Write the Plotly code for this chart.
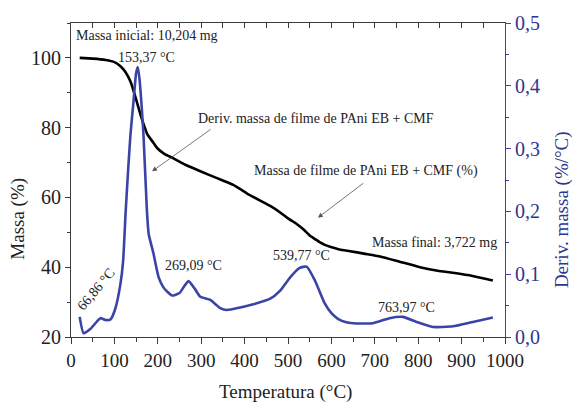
import plotly.graph_objects as go

# ---- data ----
T_mass = [20, 50, 80, 100, 114, 125, 137, 148, 160, 170, 176, 188, 199, 215, 236, 265, 298, 335,
          374, 405, 436, 460, 482, 500, 520, 536, 551, 563, 574, 585, 597, 619, 643, 675, 712,
          757, 804, 845, 880, 925, 972]
mass = [100, 99.8, 99.4, 98.8, 97.6, 96.0, 93.2, 89.0, 83.8, 80.0, 78.1, 76.0, 74.1, 72.5, 71.2,
        69.3, 67.5, 65.6, 63.6, 61.2, 59.1, 57.5, 55.7, 54.0, 52.4, 50.8, 49.0, 48.0, 47.1, 46.4,
        45.9, 45.1, 44.6, 43.9, 43.1, 41.6, 40.0, 39.0, 38.4, 37.5, 36.2]

T_deriv = [20, 29, 45, 60, 68, 80, 91, 102, 114, 120, 126, 132, 137, 144, 150, 154, 158, 162, 167,
           175, 179, 190, 202, 213, 222, 233, 250, 262, 271, 285, 298, 321, 344, 359, 390, 420,
           459, 482, 505, 527, 543, 562, 585, 600, 615, 632, 650, 696, 734, 765, 796, 834, 880,
           926, 972]
deriv = [0.032, 0.006, 0.013, 0.025, 0.030, 0.027, 0.028, 0.045, 0.085, 0.12, 0.20, 0.27, 0.322,
         0.375, 0.42, 0.43, 0.41, 0.375, 0.322, 0.20, 0.164, 0.133, 0.095, 0.079, 0.072, 0.066,
         0.070, 0.082, 0.089, 0.077, 0.064, 0.059, 0.046, 0.043, 0.047, 0.052, 0.061, 0.074,
         0.095, 0.110, 0.112, 0.090, 0.053, 0.038, 0.029, 0.024, 0.022, 0.022, 0.030, 0.032,
         0.024, 0.016, 0.017, 0.024, 0.031]

x_ticks = [0, 100, 200, 300, 400, 500, 600, 700, 800, 900, 1000]
y_left_ticks = [20, 40, 60, 80, 100]
y_right_ticks = [0.0, 0.1, 0.2, 0.3, 0.4, 0.5]

peak_labels = [  # (x, y_left, text, angle)
    (175, 100.0, "153,37 °C", 0),
    (283, 40.5, "269,09 °C", 0),
    (530, 43.3, "539,77 °C", 0),
    (773, 28.5, "763,97 °C", 0),
    (57, 33.7, "66,86 °C", -50),
]

FONT = "Liberation Serif"
BLUE = "#3a44a6"
BLUE_TXT = "#2f3590"
AX = "#3c3c3c"

fig = go.Figure()
fig.add_trace(go.Scatter(x=T_mass, y=mass, mode="lines", line=dict(color="black", width=2.6, shape="spline", smoothing=0.5),
                         showlegend=False, xaxis="x", yaxis="y"))
fig.add_trace(go.Scatter(x=T_deriv, y=deriv, mode="lines", line=dict(color=BLUE, width=2.6, shape="spline", smoothing=0.5),
                         showlegend=False, xaxis="x", yaxis="y2"))

def txt(size=14, color="#222"):
    return dict(family=FONT, size=size, color=color)

annotations = []
annotations.append(dict(x=175, y=106.5, xref="x", yref="y", text="Massa inicial: 10,204 mg", showarrow=False,
                        xanchor="center", yanchor="middle", font=txt()))
for x, y, t, a in peak_labels:
    annotations.append(dict(x=x, y=y, xref="x", yref="y", text=t, showarrow=False, textangle=a,
                            xanchor="center", yanchor="middle", font=txt()))
annotations.append(dict(x=565, y=82.7, xref="x", yref="y", text="Deriv. massa de filme de PAni EB + CMF",
                        showarrow=False, xanchor="center", yanchor="middle", font=txt()))
annotations.append(dict(x=680, y=67.5, xref="x", yref="y", text="Massa de filme de PAni EB + CMF (%)",
                        showarrow=False, xanchor="center", yanchor="middle", font=txt()))
annotations.append(dict(x=837, y=47.0, xref="x", yref="y", text="Massa final: 3,722 mg",
                        showarrow=False, xanchor="center", yanchor="middle", font=txt()))
# arrows
annotations.append(dict(x=187, y=67.5, ax=325, ay=79.8, xref="x", yref="y", axref="x", ayref="y", text="",
                        showarrow=True, arrowhead=2, arrowsize=1.2, arrowwidth=0.8, arrowcolor="#555"))
annotations.append(dict(x=569, y=54.2, ax=677, ay=64.4, xref="x", yref="y", axref="x", ayref="y", text="",
                        showarrow=True, arrowhead=2, arrowsize=1.2, arrowwidth=0.8, arrowcolor="#555"))
# axis titles
annotations.append(dict(x=-0.122, y=0.377, xref="paper", yref="paper", text="Massa (%)", textangle=-90,
                        showarrow=False, xanchor="center", yanchor="middle", font=txt(19)))
annotations.append(dict(x=1.132, y=0.405, xref="paper", yref="paper", text="Deriv. massa (%/°C)", textangle=-90,
                        showarrow=False, xanchor="center", yanchor="middle", font=txt(19, BLUE_TXT)))
annotations.append(dict(x=0.495, y=-0.174, xref="paper", yref="paper", text="Temperatura (°C)",
                        showarrow=False, xanchor="center", yanchor="middle", font=txt(19)))

fig.update_layout(
    width=573, height=402,
    margin=dict(l=70.5, r=67.5, t=21, b=65),
    paper_bgcolor="white", plot_bgcolor="white",
    separators=",.",
    annotations=annotations,
    xaxis=dict(range=[0, 1000], tickvals=x_ticks, ticks="outside", ticklen=6, tickcolor=AX,
               showline=True, linecolor=AX, linewidth=1.2, showgrid=False, zeroline=False,
               tickfont=txt(19),
               minor=dict(dtick=50, ticks="outside", ticklen=4, tickcolor=AX)),
    xaxis2=dict(range=[0, 1000], overlaying="x", side="top", dtick=50, tick0=0, ticks="inside", ticklen=5,
                tickcolor=AX, showline=True, linecolor=AX, linewidth=1.2, showticklabels=False,
                showgrid=False, zeroline=False),
    yaxis=dict(range=[20, 110], tickvals=y_left_ticks, ticks="outside", ticklen=5, tickcolor=AX,
               showline=True, linecolor=AX, linewidth=1.2, showgrid=False, zeroline=False,
               tickfont=txt(20),
               minor=dict(dtick=10, tick0=0, ticks="outside", ticklen=3, tickcolor=AX)),
    yaxis2=dict(range=[0, 0.5], tickvals=y_right_ticks, tickformat=".1f", overlaying="y", side="right",
                ticks="outside", ticklen=5, tickcolor=BLUE, showline=True, linecolor=BLUE, linewidth=1.2,
                showgrid=False, zeroline=False, tickfont=txt(20, BLUE_TXT),
                minor=dict(dtick=0.05, tick0=0, ticks="outside", ticklen=3, tickcolor=BLUE)),
)
# invisible trace to activate top axis
fig.add_trace(go.Scatter(x=[0], y=[20], mode="markers", marker=dict(opacity=0), showlegend=False,
                         hoverinfo="skip", xaxis="x2", yaxis="y"))

fig.write_html("out.html")
